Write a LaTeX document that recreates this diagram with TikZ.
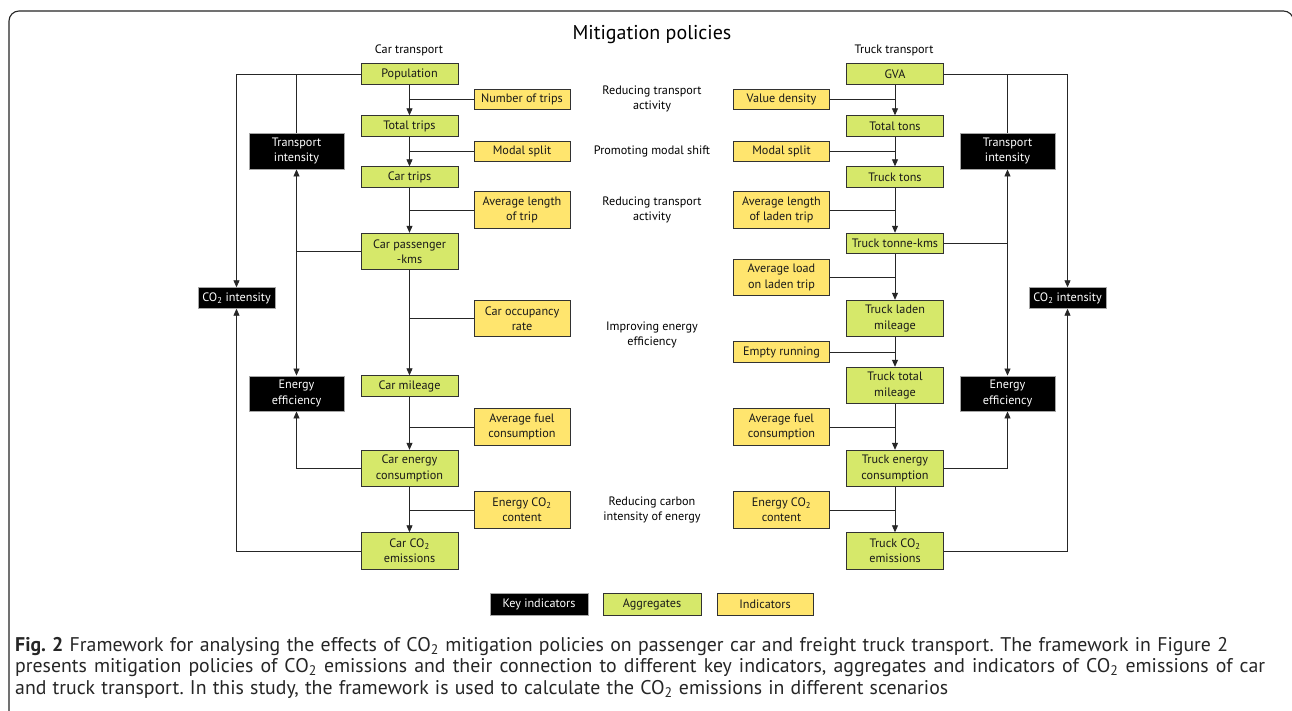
\documentclass[tikz,border=0pt]{standalone}
\usepackage{fontspec}
\setmainfont{PT Sans}
\usetikzlibrary{arrows.meta}
\definecolor{agg}{RGB}{214,232,106}
\definecolor{ind}{RGB}{255,229,110}
\definecolor{edge}{RGB}{50,50,50}
\begin{document}
\begin{tikzpicture}[x=1pt,y=-1pt,
  box/.style={draw=edge, line width=0.9pt, inner sep=0pt, align=center, text=black!90, font=\fontsize{12.2}{15.3}\selectfont},
  aggbox/.style={box, fill=agg, minimum width=97pt},
  indbox/.style={box, fill=ind, minimum width=96pt},
  keybox/.style={box, fill=black, text=white, draw=gray!70, minimum width=95pt},
  co2box/.style={box, fill=black, text=white, draw=gray!70, minimum width=77pt, minimum height=20.5pt},
  one/.style={minimum height=20.5pt},
  two/.style={minimum height=36.5pt},
  conn/.style={line width=0.85pt, draw=black!85},
  arr/.style={conn, -{Triangle[length=7pt,width=6pt]}},
  lab/.style={align=center, inner sep=0pt, font=\fontsize{12.2}{15.3}\selectfont},
  captext/.style={anchor=base west, inner sep=0pt, font=\fontsize{19.8}{21.5}\selectfont\frenchspacing, text=black!85},
]
\useasboundingbox (0,0) rectangle (1292,710);
\fill[white] (0,0) rectangle (1292,710);
\draw[line width=1.1pt, draw=black!85, rounded corners=10pt] (9,730) -- (9,11) -- (1293.5,11) -- (1293.5,730);

% titles
\node[lab, font=\fontsize{20}{22}\selectfont] (title) at (652,35) {Mitigation policies};
\node[lab] (cart) at (409,50) {Car transport};
\node[lab] (truckt) at (894,50) {Truck transport};

% policy labels
\node[lab] (p1) at (652,99) {Reducing transport\\activity};
\node[lab] (p2) at (652,151) {Promoting modal shift};
\node[lab] (p3) at (652,210) {Reducing transport\\activity};
\node[lab] (p4) at (652,335) {Improving energy\\efficiency};
\node[lab] (p5) at (652,510) {Reducing carbon\\intensity of energy};

% car column
\node[aggbox, one] (pop) at (409.5,74) {Population};
\node[aggbox, one] (tot) at (409.5,126) {Total trips};
\node[aggbox, one] (ctr) at (409.5,177) {Car trips};
\node[aggbox, two] (cpk) at (409.5,251.5) {Car passenger\\-kms};
\node[aggbox, one] (cmi) at (409.5,386) {Car mileage};
\node[aggbox, two] (cen) at (409.5,468.5) {Car energy\\consumption};
\node[aggbox, two] (cco) at (409.5,551) {Car CO\textsubscript{2}\\emissions};

% car indicators
\node[indbox, one] (ntr) at (522,99.5) {Number of trips};
\node[indbox, one] (msl) at (522,151.5) {Modal split};
\node[indbox, two] (alt) at (522,210) {Average length\\of trip};
\node[indbox, two] (occ) at (522,318.5) {Car occupancy\\rate};
\node[indbox, two] (afl) at (522,427) {Average fuel\\consumption};
\node[indbox, two] (eco) at (522,510) {Energy CO\textsubscript{2}\\content};

% car key indicators
\node[keybox, minimum height=36pt] (til) at (296.5,151) {Transport\\intensity};
\node[keybox, minimum height=35pt] (eel) at (296.5,393.5) {Energy\\efficiency};
\node[co2box] (cil) at (236.5,298) {CO\textsubscript{2} intensity};

% truck column
\node[aggbox, one] (gva) at (895,74) {GVA};
\node[aggbox, one] (tto) at (895,126) {Total tons};
\node[aggbox, one] (trt) at (895,177) {Truck tons};
\node[aggbox, one] (tkm) at (895,243.5) {Truck tonne-kms};
\node[aggbox, two] (tlm) at (895,318.5) {Truck laden\\mileage};
\node[aggbox, two] (ttm) at (895,385.5) {Truck total\\mileage};
\node[aggbox, two] (ten) at (895,468.5) {Truck energy\\consumption};
\node[aggbox, two] (tco) at (895,551) {Truck CO\textsubscript{2}\\emissions};

% truck indicators
\node[indbox, one] (vde) at (781.5,99.5) {Value density};
\node[indbox, one] (ms2) at (781.5,151.5) {Modal split};
\node[indbox, two] (alr) at (781.5,210) {Average length\\of laden trip};
\node[indbox, two] (alo) at (781.5,277.5) {Average load\\on laden trip};
\node[indbox, one] (emr) at (781.5,352) {Empty running};
\node[indbox, two] (af2) at (781.5,427) {Average fuel\\consumption};
\node[indbox, two] (ec2) at (781.5,510) {Energy CO\textsubscript{2}\\content};

% truck key indicators
\node[keybox, minimum height=36pt] (tir) at (1007.5,151) {Transport\\intensity};
\node[keybox, minimum height=35pt] (eer) at (1007.5,393.5) {Energy\\efficiency};
\node[co2box] (cir) at (1067.5,298) {CO\textsubscript{2} intensity};

% car main arrows
\draw[arr] (pop) -- (tot);
\draw[arr] (tot) -- (ctr);
\draw[arr] (ctr) -- (cpk);
\draw[arr] (cpk) -- (cmi);
\draw[arr] (cmi) -- (cen);
\draw[arr] (cen) -- (cco);
\foreach \n in {ntr,msl,alt,occ,afl,eco} \draw[conn] (\n.west) -- (\n.west -| pop.south);

% truck main arrows
\draw[arr] (gva) -- (tto);
\draw[arr] (tto) -- (trt);
\draw[arr] (trt) -- (tkm);
\draw[arr] (tkm) -- (tlm);
\draw[arr] (tlm) -- (ttm);
\draw[arr] (ttm) -- (ten);
\draw[arr] (ten) -- (tco);
\foreach \n in {vde,ms2,alr,alo,emr,af2,ec2} \draw[conn] (\n.east) -- (\n.east -| gva.south);

% car side links
\draw[arr] (pop.west) -| (cil.north);
\draw[conn] (pop.west -| til.north) -- (til.north);
\draw[arr] (cpk.west) -| (til.south);
\draw[arr] (cpk.west -| eel.north) -- (eel.north);
\draw[arr] (cen.west) -| (eel.south);
\draw[arr] (cco.west) -| (cil.south);

% truck side links
\draw[arr] (gva.east) -| (cir.north);
\draw[conn] (gva.east -| tir.north) -- (tir.north);
\draw[arr] (tkm.east) -| (tir.south);
\draw[arr] (tkm.east -| eer.north) -- (eer.north);
\draw[arr] (ten.east) -| (eer.south);
\draw[arr] (tco.east) -| (cir.south);

% legend
\node[keybox, minimum width=98pt, minimum height=22pt] (lk) at (539,604) {Key indicators};
\node[aggbox, minimum width=98pt, minimum height=22pt] (la) at (652,604) {Aggregates};
\node[indbox, minimum width=96pt, minimum height=22pt] (li) at (765,604) {Indicators};

% caption
\node[captext] (c1) at (15,651) {\hbox to 1213pt{\textbf{Fig. 2} Framework for analysing the effects of CO\textsubscript{2} mitigation policies on passenger car and freight truck transport. The framework in Figure 2}};
\node[captext] (c2) at (15,672.5) {\hbox to 1250pt{presents mitigation policies of CO\textsubscript{2} emissions and their connection to different key indicators, aggregates and indicators of CO\textsubscript{2} emissions of car}};
\node[captext] (c3) at (15,694) {\hbox to 933pt{and truck transport. In this study, the framework is used to calculate the CO\textsubscript{2} emissions in different scenarios}};
\end{tikzpicture}
\end{document}
